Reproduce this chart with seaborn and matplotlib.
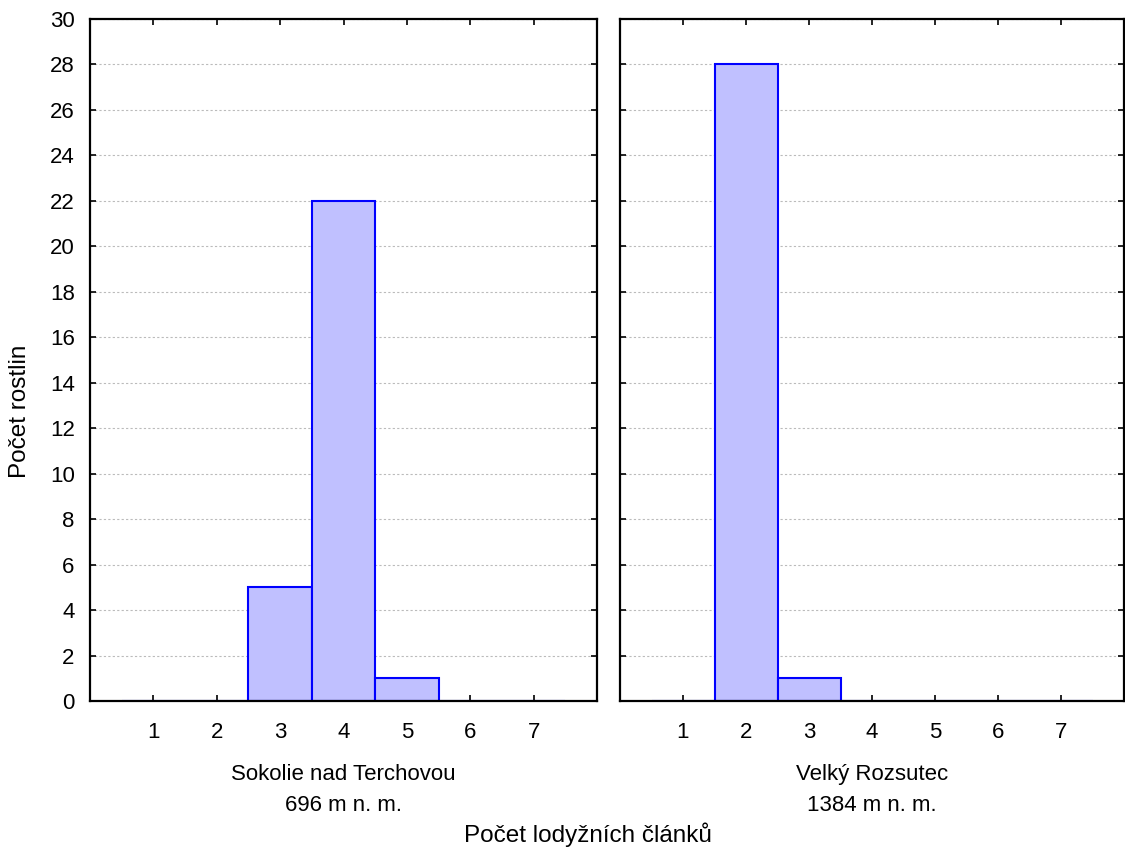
import matplotlib
matplotlib.use("Agg")
import matplotlib.pyplot as plt
import seaborn as sns
import pandas as pd

categories = [1, 2, 3, 4, 5, 6, 7]
counts_sokolie = [0, 0, 5, 22, 1, 0, 0]
counts_rozsutec = [0, 28, 1, 0, 0, 0, 0]
panel_titles = ["Sokolie nad Terchovou\n696 m n. m.", "Velký Rozsutec\n1384 m n. m."]
y_ticks = list(range(0, 31, 2))
x_label = "Počet lodyžních článků"
y_label = "Počet rostlin"

sns.set_style("white")
plt.rcParams['font.family'] = ['Liberation Sans', 'DejaVu Sans']
plt.rcParams['text.color'] = 'black'
plt.rcParams['xtick.color'] = 'black'
plt.rcParams['ytick.color'] = 'black'
plt.rcParams['axes.labelcolor'] = 'black'
FS = 16
FS_LAB = 17.5

fig = plt.figure(figsize=(11.25, 8.52), dpi=100)
W, H = 1125, 852
ax_l = fig.add_axes([90 / W, 1 - 701 / H, 507 / W, 682 / H])
ax_r = fig.add_axes([620 / W, 1 - 701 / H, 504 / W, 682 / H])

for ax, counts, title in [(ax_l, counts_sokolie, panel_titles[0]),
                          (ax_r, counts_rozsutec, panel_titles[1])]:
    df = pd.DataFrame({"x": categories, "n": counts})
    sns.histplot(data=df, x="x", weights="n", discrete=True, ax=ax,
                 color="#C0C0FF", edgecolor="#0000FF", linewidth=1.5, alpha=1.0,
                 zorder=3)
    ax.set_xlim(0, 8)
    ax.set_ylim(0, 30)
    ax.set_yticks(y_ticks)
    ax.set_xticks(categories)
    ax.yaxis.grid(True, linestyle=(0, (2, 2)), color="#BBBBBB", linewidth=0.8, zorder=0)
    ax.xaxis.grid(False)
    ax.set_axisbelow(True)
    for s in ax.spines.values():
        s.set_visible(True)
        s.set_color("black")
        s.set_linewidth(1.6)
        s.set_zorder(5)
    ax.tick_params(axis="both", direction="in", length=4, width=1.2, color="black",
                   labelcolor="black",
                   top=True, right=True, left=True, bottom=True, labelsize=FS)
    ax.tick_params(axis="x", pad=15)
    ax.tick_params(axis="y", pad=11)
    ax.set_xlabel("")
    ax.set_ylabel("")
    pos = ax.get_position()
    fig.text((pos.x0 + pos.x1) / 2, 1 - 790 / H, title, ha="center", va="center",
             fontsize=FS, linespacing=1.58, color="black")

ax_r.tick_params(axis="y", labelleft=False)
fig.text(20 / W, 1 - 411 / H, y_label, ha="center", va="center", rotation=90,
         fontsize=FS_LAB, color="black")
fig.text(588 / W, 1 - 835 / H, x_label, ha="center", va="center",
         fontsize=FS_LAB, color="black")

fig.savefig("out.png", dpi=100)
